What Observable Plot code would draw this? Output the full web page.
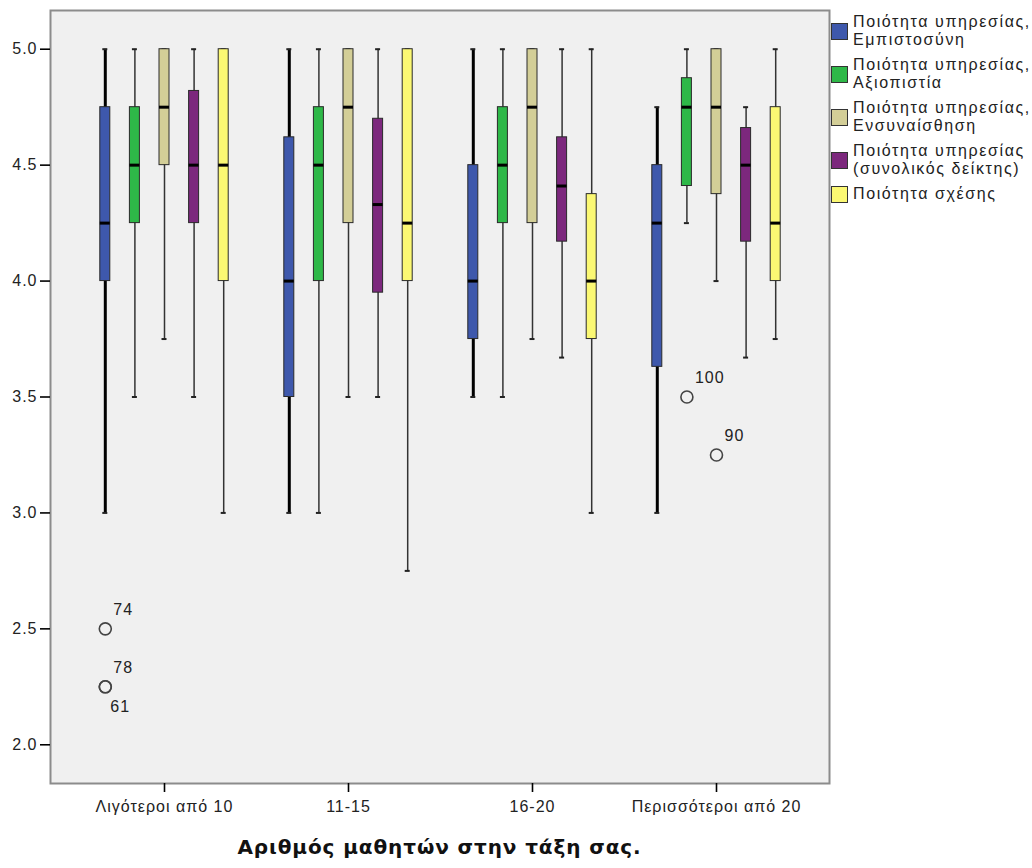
<!DOCTYPE html>
<html><head><meta charset="utf-8">
<script src="https://cdn.jsdelivr.net/npm/d3@7"></script>
<script src="https://cdn.jsdelivr.net/npm/@observablehq/plot@0.6"></script>
<style>
body{margin:0;background:#fff;}
#wrap{position:relative;width:1032px;height:868px;font-family:"Liberation Sans",Arial,sans-serif;overflow:hidden;}
#legend{position:absolute;left:831px;top:13px;}
.item{display:flex;align-items:center;margin-bottom:7px;}
.sw{width:15px;height:15px;border:1px solid #333;flex:none;}
.lab{margin-left:5px;font-size:16px;line-height:18px;letter-spacing:1.6px;color:#222;white-space:nowrap;}
#xtitle{position:absolute;left:50px;width:779px;top:835px;text-align:center;font-family:"DejaVu Sans",sans-serif;font-weight:bold;font-size:20px;letter-spacing:0.9px;color:#111;}
</style></head>
<body><div id="wrap"><div id="chart"></div><div id="legend"></div><div id="xtitle"></div></div>
<script>
// ---- data ----
const groups = ["Λιγότεροι από 10", "11-15", "16-20", "Περισσότεροι από 20"];
const series = [
  "Ποιότητα υπηρεσίας, Εμπιστοσύνη",
  "Ποιότητα υπηρεσίας, Αξιοπιστία",
  "Ποιότητα υπηρεσίας, Ενσυναίσθηση",
  "Ποιότητα υπηρεσίας (συνολικός δείκτης)",
  "Ποιότητα σχέσης"
];
const legendLines = [
  ["Ποιότητα υπηρεσίας,", "Εμπιστοσύνη"],
  ["Ποιότητα υπηρεσίας,", "Αξιοπιστία"],
  ["Ποιότητα υπηρεσίας,", "Ενσυναίσθηση"],
  ["Ποιότητα υπηρεσίας", "(συνολικός δείκτης)"],
  ["Ποιότητα σχέσης"]
];
const colors = ["#3E58AC", "#2EB848", "#D3CE97", "#7C287D", "#FBF873"];
const xTitle = "Αριθμός μαθητών στην τάξη σας.";
const yTicks = [2.0, 2.5, 3.0, 3.5, 4.0, 4.5, 5.0];

// rows: series, columns: groups
const whiskerLow  = [[3.0, 3.0, 3.5, 3.0], [3.5, 3.0, 3.5, 4.25], [3.75, 3.5, 3.75, 4.0], [3.5, 3.5, 3.67, 3.67], [3.0, 2.75, 3.0, 3.75]];
const q1          = [[4.0, 3.5, 3.75, 3.63], [4.25, 4.0, 4.25, 4.41], [4.5, 4.25, 4.25, 4.375], [4.25, 3.95, 4.17, 4.17], [4.0, 4.0, 3.75, 4.0]];
const median      = [[4.25, 4.0, 4.0, 4.25], [4.5, 4.5, 4.5, 4.75], [4.75, 4.75, 4.75, 4.75], [4.5, 4.33, 4.41, 4.5], [4.5, 4.25, 4.0, 4.25]];
const q3          = [[4.75, 4.62, 4.5, 4.5], [4.75, 4.75, 4.75, 4.875], [5.0, 5.0, 5.0, 5.0], [4.82, 4.70, 4.62, 4.66], [5.0, 5.0, 4.375, 4.75]];
const whiskerHigh = [[5.0, 5.0, 5.0, 4.75], [5.0, 5.0, 5.0, 5.0], [5.0, 5.0, 5.0, 5.0], [5.0, 5.0, 5.0, 4.75], [5.0, 5.0, 5.0, 5.0]];

const outlierGroup  = ["Λιγότεροι από 10", "Λιγότεροι από 10", "Λιγότεροι από 10", "Περισσότεροι από 20", "Περισσότεροι από 20"];
const outlierSeries = [0, 0, 0, 1, 2];
const outlierValue  = [2.5, 2.25, 2.25, 3.5, 3.25];
const outlierCase   = ["74", "78", "61", "100", "90"];

// ---- build tables ----
const rows = [];
series.forEach((s, i) => groups.forEach((g, j) => rows.push({
  group: g, si: i, lo: whiskerLow[i][j], q1: q1[i][j], med: median[i][j], q3: q3[i][j], hi: whiskerHigh[i][j]
})));
const outliers = outlierValue.map((v, k) => ({
  group: outlierGroup[k], si: outlierSeries[k], value: v, label: outlierCase[k],
  below: outlierValue.slice(0, k).some((w, m) => w === v && outlierGroup[m] === outlierGroup[k] && outlierSeries[m] === outlierSeries[k])
}));

const STEP = 29.6, BAND = 184, BOXW = 10, CAPW = 5;
const marks = [Plot.frame({fill: "#f0f0f0", stroke: "#8c8c8c", strokeWidth: 2})];
series.forEach((s, i) => {
  const d = rows.filter(r => r.si === i);
  const dx = (i - 2) * STEP;
  const wStroke = i === 0 ? "#000" : "#333";
  const wWidth = i === 0 ? 3 : 1.5;
  marks.push(
    Plot.ruleX(d, {x: "group", y1: "lo", y2: "hi", stroke: wStroke, strokeWidth: wWidth, dx}),
    Plot.tickY(d, {x: "group", y: "lo", stroke: "#222", strokeWidth: 2, insetLeft: (BAND - CAPW) / 2, insetRight: (BAND - CAPW) / 2, dx}),
    Plot.tickY(d, {x: "group", y: "hi", stroke: "#222", strokeWidth: 2, insetLeft: (BAND - CAPW) / 2, insetRight: (BAND - CAPW) / 2, dx}),
    Plot.barY(d, {x: "group", y1: "q1", y2: "q3", fill: colors[i], stroke: "#2a2a2a", strokeWidth: 1, insetLeft: (BAND - BOXW) / 2, insetRight: (BAND - BOXW) / 2, dx}),
    Plot.tickY(d, {x: "group", y: "med", stroke: "#000", strokeWidth: 3, insetLeft: (BAND - BOXW) / 2, insetRight: (BAND - BOXW) / 2, dx})
  );
  const o = outliers.filter(r => r.si === i);
  if (o.length) {
    marks.push(
      Plot.dot(o, {x: "group", y: "value", r: 6, stroke: "#444", strokeWidth: 1.6, fill: "none", dx}),
      Plot.text(o.filter(r => !r.below), {x: "group", y: "value", text: "label", textAnchor: "start", dx: dx + 8, dy: -19, fill: "#222"}),
      Plot.text(o.filter(r => r.below), {x: "group", y: "value", text: "label", textAnchor: "start", dx: dx + 5, dy: 20, fill: "#222"})
    );
  }
});
marks.push(
  Plot.axisY({ticks: yTicks, tickFormat: d3.format(".1f"), tickSize: 10, tickPadding: 3, label: null, line: true, stroke: "#000", strokeWidth: 1.6}),
  Plot.axisX({tickSize: 9, tickPadding: 8, label: null, line: true, stroke: "#000", strokeWidth: 1.6})
);

const chart = Plot.plot({
  width: 1032,
  height: 830,
  marginLeft: 50,
  marginRight: 203,
  marginTop: 10,
  marginBottom: 47,
  style: {fontFamily: "Liberation Sans, Arial, sans-serif", fontSize: "16px", letterSpacing: "1px", color: "#222", background: "#fff", overflow: "visible"},
  x: {type: "band", domain: groups, range: [72, 808], padding: 0},
  y: {domain: [1.833, 5.167]},
  marks
});
document.getElementById("chart").appendChild(chart);

const legend = document.getElementById("legend");
legendLines.forEach((lines, i) => {
  const item = document.createElement("div");
  item.className = "item";
  const sw = document.createElement("div");
  sw.className = "sw";
  sw.style.background = colors[i];
  const lab = document.createElement("div");
  lab.className = "lab";
  lab.innerHTML = lines.join("<br>");
  item.appendChild(sw);
  item.appendChild(lab);
  legend.appendChild(item);
});
document.getElementById("xtitle").textContent = xTitle;
</script>
</body></html>
